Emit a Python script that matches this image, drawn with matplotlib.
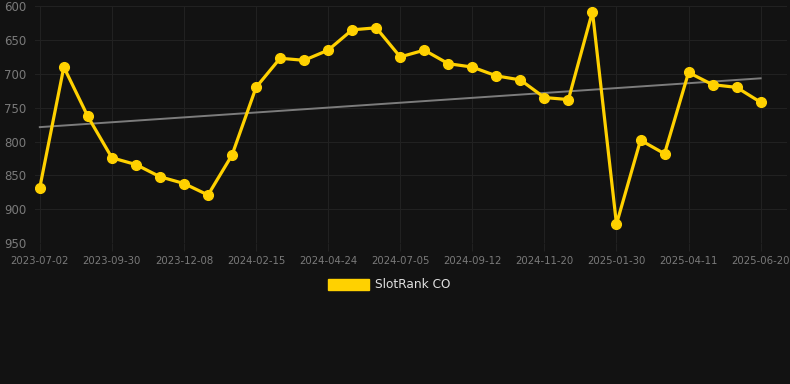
import numpy as np
import matplotlib
matplotlib.use('Agg')
import matplotlib.pyplot as plt
from matplotlib.patches import Patch

# rank values, one per sample
ranks = [868, 690, 763, 824, 834, 852, 862, 879, 820, 720,
         677, 680, 665, 635, 632, 675, 665, 685, 690, 703,
         709, 735, 738, 608, 922, 798, 818, 698, 716, 720, 742]
tick_labels = ['2023-07-02', '2023-09-30', '2023-12-08', '2024-02-15',
               '2024-04-24', '2024-07-05', '2024-09-12', '2024-11-20',
               '2025-01-30', '2025-04-11', '2025-06-20']
series_name = 'SlotRank CO'

bg = '#121212'
gold = '#FFD100'
grid_col = '#212121'

fig = plt.figure(figsize=(7.9, 3.84), dpi=100, facecolor=bg)
ax = fig.add_axes([0.0443, 0.367, 0.952, 0.617], facecolor=bg)

x = np.arange(len(ranks))
ax.plot(x, ranks, color=gold, lw=2.3, marker='o', ms=7, zorder=3)

# linear trend
k, b = np.polyfit(x, ranks, 1)
ax.plot(x, k * x + b, color='#7c7c7c', lw=1.4, zorder=2)

ax.set_ylim(950, 600)
ax.set_xlim(-0.2, 31.1)
ax.set_yticks([600, 650, 700, 750, 800, 850, 900, 950])
ax.set_xticks(x[::3])
ax.set_xticklabels(tick_labels)
ax.tick_params(axis='y', length=0, labelsize=8.5, colors='#7a7a7a', pad=6)
ax.tick_params(axis='x', length=6, width=0.8, color=grid_col,
               labelsize=7.3, colors='#7a7a7a', pad=3)
ax.tick_params(axis='x', which='both', color=grid_col)
ax.grid(True, color=grid_col, lw=0.8)
for s in ax.spines.values():
    s.set_visible(False)

fig.legend(handles=[Patch(color=gold, label=series_name)], loc='center',
           bbox_to_anchor=(0.493, 1 - 285 / 384), frameon=False,
           handlelength=3.4, handleheight=1.0, handletextpad=0.5,
           prop={'size': 8.7}, labelcolor='#e0e0e0')

fig.savefig('out.png', dpi=100, facecolor=bg)
